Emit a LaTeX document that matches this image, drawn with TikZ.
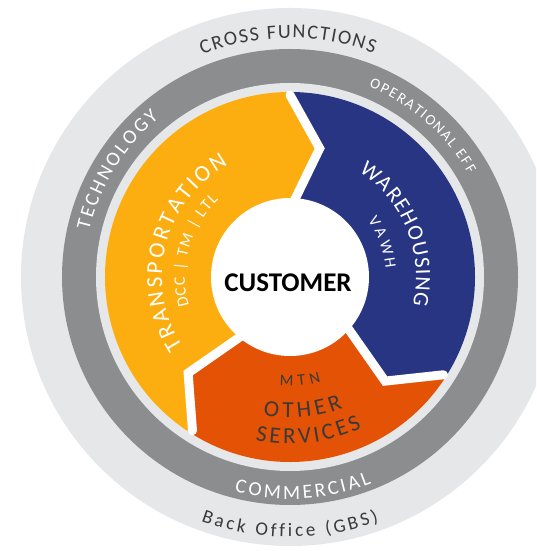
\documentclass[tikz,border=0pt]{standalone}
\usepackage{fontspec}
\setmainfont{Carlito}
\usetikzlibrary{decorations.text}
\definecolor{lgray}{HTML}{E6E7E8}
\definecolor{dgray}{HTML}{8C8D8F}
\definecolor{sorange}{HTML}{FCAD0F}
\definecolor{sblue}{HTML}{283583}
\definecolor{sred}{HTML}{E35205}
\definecolor{tdark}{HTML}{3A3A3A}
\newcommand\arctext[6]{%
  \path[decorate, decoration={text along path, text format delimiters={[}{]},
    text align={fit to path}, text color=#1,
    text={[\fontsize{#2}{#2}\selectfont]#6}}]
    (#4:#3) arc[start angle=#4, end angle=#5, radius=#3];}
\begin{document}
\begin{tikzpicture}[x=1pt,y=1pt,
  gapline/.style={draw=white, line width=9pt, line cap=round, line join=miter}]
\clip (0,0) rectangle (536,551);
\fill[white] (0,0) rectangle (536,551);
\begin{scope}[shift={(290,274)}]
  \coordinate (C) at (0,0);
  % rings
  \fill[lgray] (C) circle[radius=269];
  \fill[dgray] (C) circle[radius=228];
  \fill[lgray] (C) circle[radius=194];
  % segments
  \fill[sorange] (90:185) -- (77:132) -- (89:78)
     arc[start angle=89, end angle=232, radius=78]
     -- (223.3:140) -- (237.6:185)
     arc[start angle=237.6, end angle=90, radius=185] -- cycle;
  \fill[sblue] (90:185) arc[start angle=90, end angle=-32.5, radius=185]
     -- (-47.6:141) -- (-40:78)
     arc[start angle=-40, end angle=89, radius=78] -- (77:132) -- cycle;
  \fill[sred] (-32.5:185) arc[start angle=-32.5, end angle=-122.4, radius=185]
     -- (-136.7:140) -- (-128:78)
     arc[start angle=-128, end angle=-40, radius=78] -- (-47.6:141) -- cycle;
  % white gaps
  \draw[gapline] (89:70) -- (77:132) -- (90:182);
  \draw[gapline] (-40:70) -- (-47.6:141) -- (-32.5:182);
  \draw[gapline] (-128:70) -- (-136.7:140) -- (-122.4:182);
  % centre
  \fill[white] (C) circle[radius=79];
  \node[font=\fontsize{27}{27}\selectfont\bfseries, text=black] (cust) at (-2,-6) {CUSTOMER};
  % ring texts
  \arctext{tdark}{20}{239}{111.5}{69.5}{CROSS FUNCTIONS}
  \arctext{white}{20}{206}{167}{129.5}{TECHNOLOGY}
  \arctext{white}{15}{206}{67.5}{30}{OPERATIONAL EFF}
  \arctext{white}{20}{222}{255.5}{291.5}{COMMERCIAL}
  \arctext{tdark}{19}{260}{250}{290}{Back Office (GBS)}
  % segment texts
  \arctext{white}{23}{128}{213}{119}{TRANSPORTATION}
  \arctext{white}{16}{105}{196}{133}{DCC | TM | LTL}
  \arctext{white}{22}{126}{57}{-13}{WAREHOUSING}
  \arctext{white}{16}{96}{36}{5}{VAWH}
  \arctext{tdark}{16}{109}{264.5}{286.5}{MTN}
  \arctext{tdark}{23}{141}{259}{292}{OTHER}
  \arctext{tdark}{23}{167}{258}{295.5}{SERVICES}
\end{scope}
\end{tikzpicture}
\end{document}
